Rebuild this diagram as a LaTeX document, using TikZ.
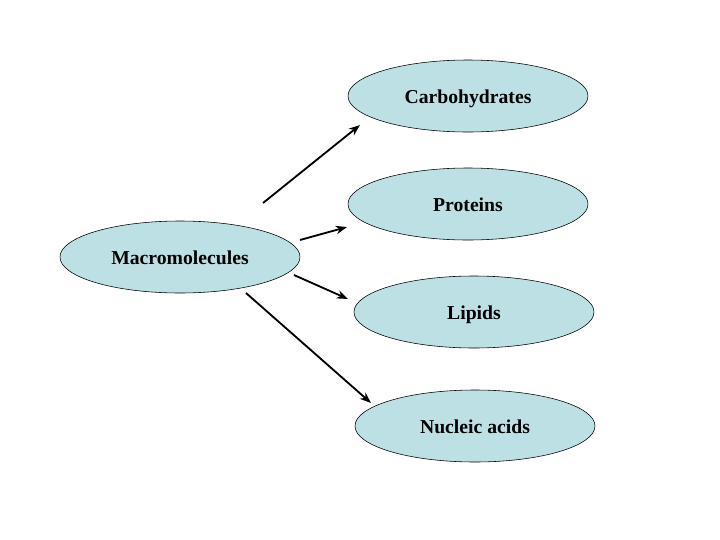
\documentclass[tikz,border=0pt]{standalone}
\usepackage{fontspec}
\setmainfont{Liberation Serif}
\usepackage{xcolor}
\usetikzlibrary{arrows.meta,shapes.geometric}
\definecolor{molblue}{RGB}{188,224,228}
\tikzset{mol/.style={ellipse,draw,fill=molblue,minimum width=6cm,minimum height=1.8cm,inner sep=0pt,text height=10pt,text depth=0pt,font=\fontsize{14}{16}\selectfont\bfseries}}
\begin{document}
\begin{tikzpicture}[arr/.style={-{Stealth[length=8pt,width=6pt]},line width=1.3pt}]
\useasboundingbox(0,0) rectangle (18,-13.5);
\node[mol](macro) at (4.5,-6.425){Macromolecules};
\node[mol](carb) at (11.7,-2.4){Carbohydrates};
\node[mol](prot) at (11.7,-5.1){Proteins};
\node[mol](lip) at (11.85,-7.8){Lipids};
\node[mol](nuc) at (11.875,-10.65){Nucleic acids};
\draw[arr]([shift={(2.075,1.35)}]macro.center)--([shift={(-2.7,-0.725)}]carb.center);
\draw[arr]([shift={(3.0,0.425)}]macro.center)--([shift={(-3.025,-0.575)}]prot.center);
\draw[arr]([shift={(2.85,-0.45)}]macro.center)--([shift={(-3.15,0.325)}]lip.center);
\draw[arr]([shift={(1.65,-0.9)}]macro.center)--([shift={(-2.6,0.575)}]nuc.center);
\end{tikzpicture}
\end{document}
